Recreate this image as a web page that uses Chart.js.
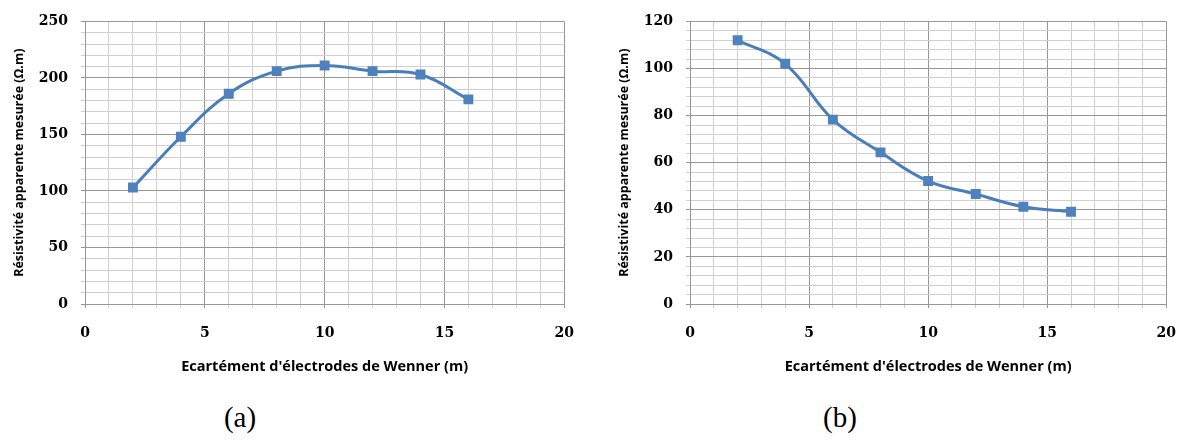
<!DOCTYPE html>
<html>
<head>
<meta charset="utf-8">
<script src="https://cdn.jsdelivr.net/npm/chart.js@4/dist/chart.umd.min.js"></script>
<style>
    body { margin: 0; background: #fff; width: 1177px; height: 441px; position: relative; overflow: hidden; }
    .panel { position: absolute; top: 0; height: 382px; }
    .caption { position: absolute; top: 401px; font-family: "Liberation Serif", serif; font-size: 29px; color: #000; transform: translateX(-50%); }
</style>
</head>
<body>
<div class="panel" style="left:0; width:591px;"><canvas id="chartA"></canvas></div>
<div class="panel" style="left:605px; width:588px;"><canvas id="chartB"></canvas></div>
<div class="caption" style="left:240px;">(a)</div>
<div class="caption" style="left:840px;">(b)</div>

<script>
const spacing = [2, 4, 6, 8, 10, 12, 14, 16];
const resistivityA = [103, 148, 186, 206, 211, 206, 203, 181];
const resistivityB = [112, 102, 78.3, 64.4, 52.2, 46.7, 41.3, 39.2];

const xTitle = "Ecartément d'électrodes de Wenner (m)";
const yTitle = "Résistivité apparente mesurée (Ω.m)";

const lineColor = '#4a7ebb';
const markerColor = '#4f81bd';
const majorGrid = '#969696';
const minorGrid = '#d0d0d0';

const tickFont = { family: '"DejaVu Serif", serif', size: 14, weight: 'bold' };
const xTitleFont = { family: '"Open Sans", sans-serif', size: 14.5, weight: 'bold' };
const yTitleFont = { family: '"Open Sans", sans-serif', size: 12.5, weight: 'bold' };

function makeChart(canvasId, values, yMax, yMinor, yMajor) {
    const points = spacing.map((x, i) => ({ x: x, y: values[i] }));

    new Chart(document.getElementById(canvasId), {
        type: 'line',
        data: {
            datasets: [{
                data: points,
                borderColor: lineColor,
                borderWidth: 3,
                tension: 0.4,
                pointStyle: 'rect',
                pointRadius: 7,
                pointBackgroundColor: markerColor,
                pointBorderColor: markerColor,
                pointBorderWidth: 0
            }]
        },
        options: {
            responsive: true,
            maintainAspectRatio: false,
            animation: false,
            layout: { padding: { top: 18, right: 11, left: 0, bottom: 0 } },
            plugins: {
                legend: { display: false },
                tooltip: { enabled: false }
            },
            scales: {
                x: {
                    type: 'linear',
                    min: 0,
                    max: 20,
                    afterFit: scale => { scale.height = 78; },
                    ticks: {
                        stepSize: 1,
                        padding: 17,
                        maxRotation: 0,
                        autoSkip: false,
                        color: '#000',
                        font: tickFont,
                        callback: v => (v % 5 === 0 ? v : '')
                    },
                    grid: {
                        tickLength: 4,
                        color: ctx => (ctx.tick && ctx.tick.value % 5 === 0 ? majorGrid : minorGrid),
                        lineWidth: 1
                    },
                    border: { color: majorGrid },
                    title: {
                        display: true,
                        text: xTitle,
                        color: '#000',
                        font: xTitleFont,
                        padding: { top: 0, bottom: 6 }
                    }
                },
                y: {
                    min: 0,
                    max: yMax,
                    afterFit: scale => { scale.width = 85; },
                    ticks: {
                        stepSize: yMinor,
                        padding: 13,
                        autoSkip: false,
                        color: '#000',
                        font: tickFont,
                        callback: v => (v % yMajor === 0 ? v : '')
                    },
                    grid: {
                        tickLength: 4,
                        color: ctx => (ctx.tick && ctx.tick.value % yMajor === 0 ? majorGrid : minorGrid),
                        lineWidth: 1
                    },
                    border: { color: majorGrid },
                    title: {
                        display: true,
                        text: yTitle,
                        color: '#000',
                        font: yTitleFont,
                        padding: { top: 12, bottom: 0 }
                    }
                }
            }
        }
    });
}

// (a) and (b)
makeChart('chartA', resistivityA, 250, 10, 50);
makeChart('chartB', resistivityB, 120, 4, 20);
</script>
</body>
</html>
